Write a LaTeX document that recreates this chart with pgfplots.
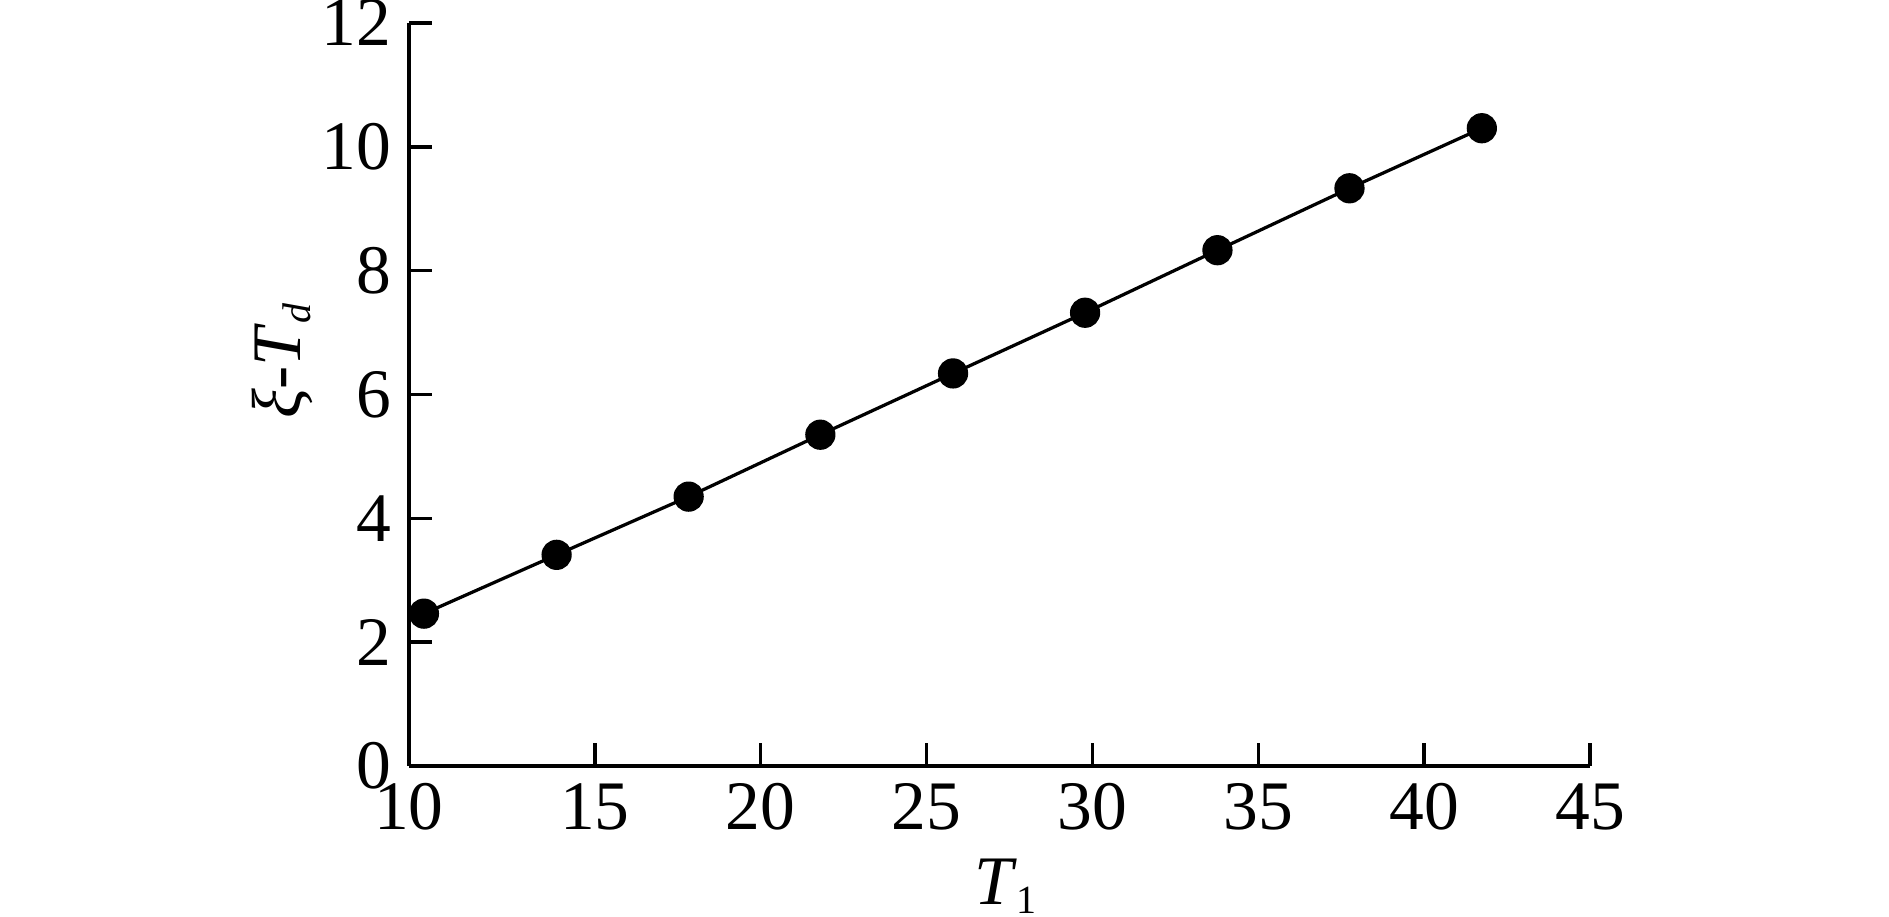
\documentclass[border=0pt]{standalone}
\usepackage{fontspec}
\setmainfont{Liberation Serif}
\usepackage{pgfplots}
\pgfplotsset{compat=1.18}

\begin{document}
\begin{tikzpicture}
\path[use as bounding box] (-81.8pt,-30.2pt) rectangle (296pt,153.2pt);
\begin{axis}[
    at={(0,0)}, anchor=south west,
    scale only axis,
    width=236.2pt, height=148.6pt,
    xmin=9.4, xmax=45,
    ymin=0, ymax=12,
    axis x line*=bottom,
    axis y line*=left,
    axis line style={line width=0.7pt},
    tick style={line width=0.7pt, black},
    tick align=inside,
    major tick length=4.6pt,
    xtick={9.4,15,20,25,30,35,40,45},
    xticklabels={10,15,20,25,30,35,40,45},
    ytick={0,2,...,12},
    font=\fontsize{13.9}{16}\selectfont,
    /pgf/number format/assume math mode=true,
    xlabel={\textit{T}\raisebox{-0.3ex}{\fontsize{8}{9}\selectfont 1}},
    ylabel={\textit{ξ}-\textit{T}\raisebox{-0.3ex}{\fontsize{8}{9}\selectfont\textit{d}}},
    xlabel style={at={(axis description cs:0.505,0)}, anchor=north, yshift=-15pt},
    ylabel style={at={(axis description cs:-0.107,0.545)}, anchor=center},
    clip=false,
]
\addplot[black, line width=0.65pt, mark=*, mark size=2.7pt, mark options={fill=black}]
  coordinates {
    (9.85,2.46) (13.85,3.41) (17.83,4.35) (21.8,5.35) (25.8,6.34)
    (29.78,7.32) (33.77,8.33) (37.75,9.33) (41.74,10.30)
  };
\end{axis}
\end{tikzpicture}
\end{document}
